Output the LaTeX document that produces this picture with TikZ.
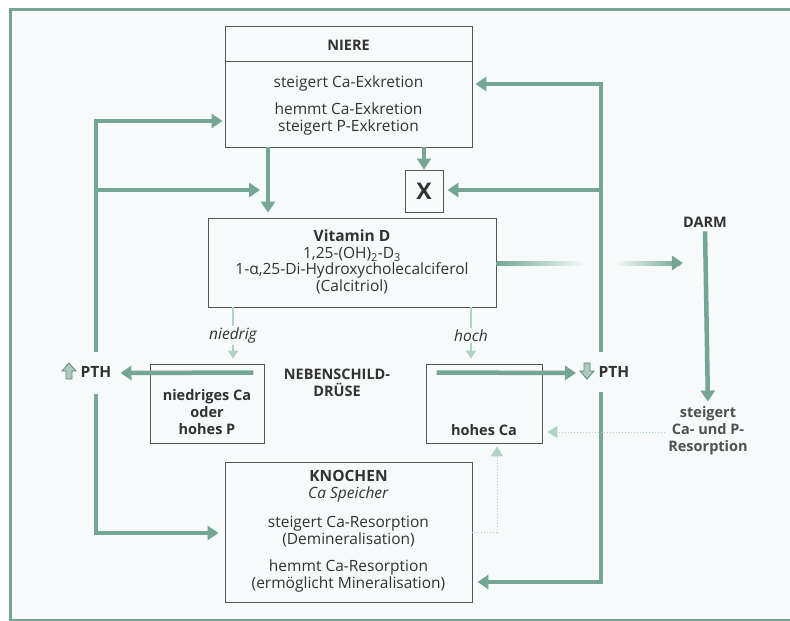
\documentclass[tikz,border=0pt]{standalone}
\usepackage{fontspec}
\setmainfont{Open Sans}
\usetikzlibrary{arrows.meta,calc}
\definecolor{grn}{RGB}{116,166,147}
\definecolor{lgrn}{RGB}{175,210,197}
\definecolor{bg}{RGB}{246,250,250}
\definecolor{txt}{RGB}{50,50,50}
\definecolor{boxc}{RGB}{85,85,85}
\begin{document}
\begin{tikzpicture}[x=1pt,y=-1pt,
  box/.style={draw=boxc, line width=0.9pt, inner sep=0pt},
  mainarrow/.style={draw=grn, line width=4.5pt, line join=miter, -{Triangle[length=11pt,width=14pt]}},
  mainline/.style={draw=grn, line width=4.5pt},
  lightarrow/.style={draw=lgrn, line width=2.2pt, -{Triangle[length=8pt,width=10pt]}},
  dotarrow/.style={draw=lgrn, line width=1pt, dotted, -{Triangle[length=10pt,width=12pt]}},
  lbl/.style={text=txt, font=\fontsize{15.5}{16.5}\selectfont, align=center, inner sep=0pt},
  blbl/.style={lbl, font=\fontsize{14.5}{17}\selectfont\bfseries},
  ilbl/.style={lbl, font=\fontsize{15.5}{16.5}\selectfont\itshape, fill=bg, inner sep=2pt},
  pthglyph/.style={fill=grn!60, draw=grn!80!black, line width=0.8pt, line join=miter}
]
\clip (0,0) rectangle (790,621);
\fill[white] (0,0) rectangle (790,621);
\fill[bg] (10,9) rectangle (800,620);
\draw[grn, line width=3pt] (800,9) -- (10,9) -- (10,620) -- (800,620);

% boxes
\node[box, minimum width=247pt, minimum height=121pt] (niere) at (348.5,86.5) {};
\draw[boxc, line width=0.9pt] ([yshift=-36pt]niere.north west) -- ([yshift=-36pt]niere.north east);
\node[blbl] (nieret) at (348.5,45) {NIERE};
\node[lbl] (niere1) at (348.5,83) {steigert Ca-Exkretion};
\node[lbl] (niere2) at (348.5,119) {hemmt Ca-Exkretion\\steigert P-Exkretion};

\node[box, minimum width=38pt, minimum height=42pt, font=\fontsize{23}{23}\selectfont\bfseries, text=txt] (xbox) at (424,191) {X};

\node[box, minimum width=288pt, minimum height=89pt] (vitd) at (352,262.5) {};
\node[lbl] (vitdt) at (352,262) {\textbf{Vitamin D}\\1,25-(OH)\textsubscript{2}-D\textsubscript{3}\\1-α,25-Di-Hydroxycholecalciferol\\(Calcitriol)};

\node[box, minimum width=114pt, minimum height=79pt] (niedr) at (207,403.5) {};
\node[blbl] (niedrt) at (207,412) {niedriges Ca\\oder\\hohes P};

\node[box, minimum width=116pt, minimum height=79pt] (hohes) at (484,403.5) {};
\node[blbl] (hohest) at (484,430) {hohes Ca};

\node[box, minimum width=247pt, minimum height=140pt] (knochen) at (348.5,532) {};
\node[lbl, font=\fontsize{15.5}{17}\selectfont] (knochent) at (348.5,531) {\textbf{KNOCHEN}\\\textit{Ca Speicher}\\[12pt]steigert Ca-Resorption\\(Demineralisation)\\[10pt]hemmt Ca-Resorption\\(ermöglicht Mineralisation)};

\node[blbl] (neben) at (337,383) {NEBENSCHILD-\\DRÜSE};
\node[blbl] (darm) at (705,222) {DARM};
\node[blbl, text=txt!85] (resorp) at (708,431) {steigert\\Ca- und P-\\Resorption};

% PTH labels
\node[blbl, font=\fontsize{15.5}{17}\selectfont\bfseries] (pthl) at (96,372) {PTH};
\node[blbl, font=\fontsize{15.5}{17}\selectfont\bfseries] (pthr) at (614,372) {PTH};
\draw[pthglyph] (69,363) -- (76,371) -- (72,371) -- (72,379) -- (66,379) -- (66,371) -- (62,371) -- cycle;
\draw[pthglyph] (587,379) -- (594,371) -- (590,371) -- (590,363) -- (584,363) -- (584,371) -- (580,371) -- cycle;

% coordinates
\coordinate (Ltop) at (96,121);
\coordinate (Lmid) at (96,190);
\coordinate (Lup) at (96,352);
\coordinate (Llo) at (96,394);
\coordinate (Lbot) at (96,533);
\coordinate (Rtop) at (601,84);
\coordinate (Rmid) at (601,190);
\coordinate (Rup) at (601,352);
\coordinate (Rlo) at (601,392);
\coordinate (Rbot) at (601,582);
\coordinate (nv) at (268,0);
\coordinate (nvx) at (260,190);

% left loop
\draw[mainarrow, shorten >=2pt] (Lup) -- (Ltop) -- (niere.west |- Ltop);
\draw[mainarrow] (Lmid) -- (nvx);
\draw[mainarrow, shorten >=6pt] (Llo) -- (Lbot) -- (knochen.west |- Lbot);

% right loop
\draw[mainarrow, shorten >=3pt] (Rup) -- (Rtop) -- (niere.east |- Rtop);
\draw[mainarrow, shorten >=4pt] (Rmid) -- (xbox.east |- Rmid);
\draw[mainarrow, shorten >=5pt] (Rlo) -- (Rbot) -- (knochen.east |- Rbot);

% niere outputs
\draw[mainarrow, shorten >=5pt] (niere.south -| nv) -- (vitd.north -| nv);
\draw[mainarrow, shorten >=0pt] (niere.south -| xbox) -- (xbox.north);

% PTH arrows
\draw[mainarrow, shorten >=9pt] ([xshift=-11pt,yshift=-9pt]niedr.north east) -- (pthl.east |- 0,373);
\draw[mainarrow, shorten >=4pt] ([xshift=11pt,yshift=-9pt]hohes.north west) -- (580,373);

% Vitamin D -> DARM
\fill[left color=grn, right color=bg] (vitd.east |- 0,261) rectangle (585,265);
\fill[left color=bg, right color=grn] (615,261) rectangle (680,265);
\coordinate (vdm) at (679,263);
\draw[mainarrow, line width=4pt] (vdm) -- (darm.west |- vdm);

% DARM -> Resorption
\draw[mainarrow, shorten >=5pt, shorten <=4pt] (darm.south) -- (resorp.north);

% dotted arrows
\draw[dotarrow, shorten >=5pt, shorten <=3pt] (resorp.west |- 0,432) -- (hohes.east |- 0,432);
\coordinate (kc) at (497,532);
\draw[dotarrow, shorten >=3pt] (knochen.east |- kc) -- (kc) -- (kc |- hohes.south);

% niedrig / hoch
\draw[lightarrow, shorten >=5pt] (vitd.south -| 233,0) -- node[ilbl] {niedrig} (niedr.north -| 233,0);
\draw[lightarrow, shorten >=5pt] (vitd.south -| 471,0) -- node[ilbl] {hoch} (hohes.north -| 471,0);
\end{tikzpicture}
\end{document}
